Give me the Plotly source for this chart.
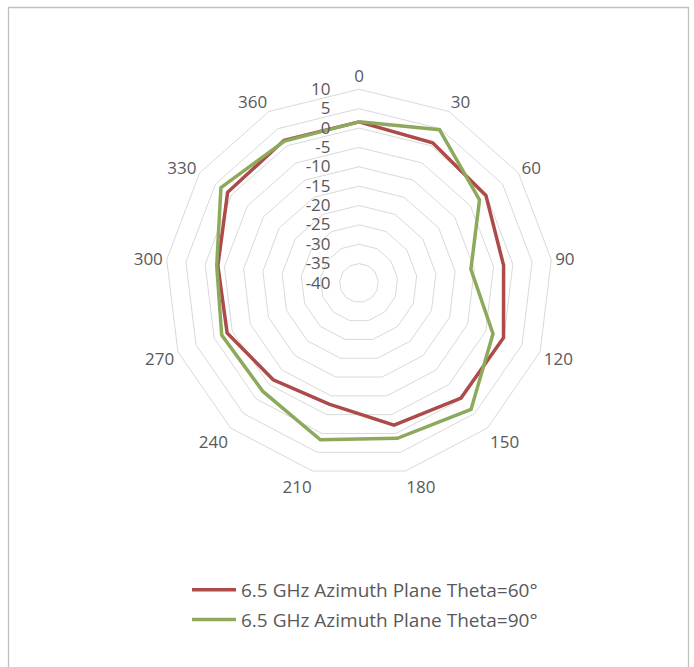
import plotly.graph_objects as go

categories = ["0", "30", "60", "90", "120", "150", "180", "210", "240", "270", "300", "330", "360"]
theta60 = [1.6, 0.9, -0.2, -2.4, -0.1, -0.3, -2.2, -7.8, -6.6, -3.6, -3.3, 1.2, 1.6]
theta90 = [1.6, 4.7, -2.2, -10.9, -3.0, 3.6, 1.3, 1.7, -2.6, -2.1, -3.0, 3.3, 1.4]
radial_ticks = [-40, -35, -30, -25, -20, -15, -10, -5, 0, 5, 10]
radial_labels = ["-40", "-35", "-30", "-25", "-20", "-15", "-10", "-5", "0", "5", "10"]

W, H = 694, 667
cx, cy, R = 359, 283, 193.7

fig = go.Figure()
fig.add_trace(go.Scatterpolar(
    r=theta60 + [theta60[0]], theta=categories + [categories[0]],
    mode="lines", name="6.5 GHz Azimuth Plane Theta=60°",
    line=dict(color="#AD4A4A", width=3.5), legendgroup="a"))
fig.add_trace(go.Scatterpolar(
    r=theta90 + [theta90[0]], theta=categories + [categories[0]],
    mode="lines", name="6.5 GHz Azimuth Plane Theta=90°",
    line=dict(color="#8DAA5C", width=3.5), legendgroup="b"))

fig.update_layout(
    width=W, height=H,
    margin=dict(l=0, r=0, t=0, b=0),
    paper_bgcolor="white",
    font=dict(family="Open Sans", color="#595959", size=17),
    polar=dict(
        domain=dict(x=[(cx - R) / W, (cx + R) / W], y=[1 - (cy + R) / H, 1 - (cy - R) / H]),
        gridshape="linear",
        bgcolor="white",
        angularaxis=dict(type="category", direction="clockwise", rotation=90,
                         showgrid=False, showline=True, linecolor="#D9D9D9", linewidth=1,
                         ticks="", tickfont=dict(size=17, color="#595959")),
        radialaxis=dict(range=[-40, 10], tickvals=radial_ticks, ticktext=radial_labels,
                        angle=90, tickangle=90,
                        showline=False, gridcolor="#D9D9D9", gridwidth=1,
                        ticks="outside", ticklen=22, tickcolor="rgba(0,0,0,0)",
                        side="counterclockwise",
                        tickfont=dict(size=17, color="#595959")),
    ),
    showlegend=True,
    legend=dict(x=365 / W, xanchor="center", y=1 - 605 / H, yanchor="middle",
                orientation="v", traceorder="grouped", tracegroupgap=2, itemwidth=44,
                font=dict(size=19, color="#595959"), bgcolor="rgba(0,0,0,0)"),
    shapes=[dict(type="rect", xref="paper", yref="paper",
                 x0=8.5 / W, x1=688.5 / W, y0=-0.05, y1=1 - 7.5 / H,
                 line=dict(color="#BFBFBF", width=1.3))],
)

fig.write_html("out.html", config={"displayModeBar": False},
               post_script="document.body.style.margin='0';document.body.style.overflow='hidden';")
